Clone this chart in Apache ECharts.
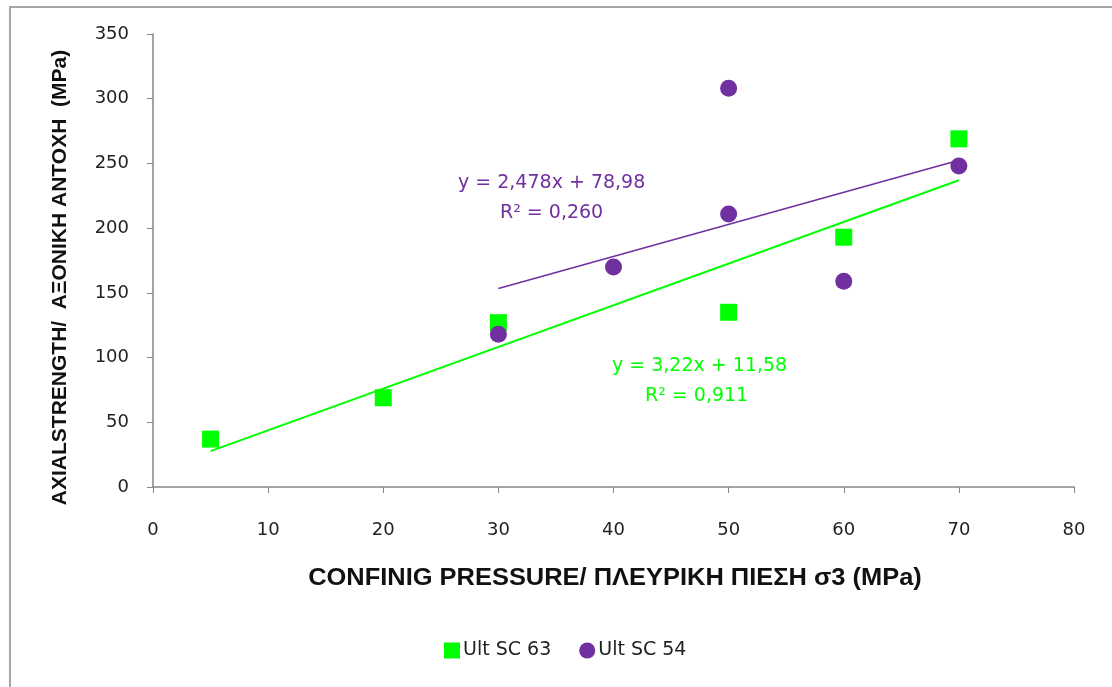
<!DOCTYPE html>
<html>
<head>
<meta charset="utf-8">
<script src="https://cdn.jsdelivr.net/npm/echarts@6/dist/echarts.min.js"></script>
<style>
  html, body { margin: 0; padding: 0; background: #fff; }
  #frame { position: absolute; left: 9px; top: 6px; width: 1103px; height: 681px;
           border-top: 2px solid #a6a6a6; border-left: 2px solid #a6a6a6; box-sizing: border-box; }
  #chart { position: absolute; left: 0; top: 0; width: 1112px; height: 687px; }
</style>
</head>
<body>
<div id="frame"></div>
<div id="chart"></div>
<script>
// Ult SC 63 (green squares)
const sc63X = [5, 20, 30, 50, 60, 70];
const sc63Y = [37, 69, 127, 135, 193, 269];
// Ult SC 54 (purple circles)
const sc54X = [30, 40, 50, 50, 60, 70];
const sc54Y = [118, 170, 308, 211, 159, 248];
// trendline coefficients as printed on the chart
const fit63 = { slope: 3.22, intercept: 11.58, from: 5, to: 70 };
const fit54 = { slope: 2.478, intercept: 78.98, from: 30, to: 70 };

const xTitle = "CONFINIG PRESSURE/ ΠΛΕΥΡΙΚΗ ΠΙΕΣΗ σ3 (MPa)";
const yTitle = "AXIALSTRENGTH/  ΑΞΟΝΙΚΗ ΑΝΤΟΧΗ  (MPa)";

const green = "#00ff00";
const purple = "#7030a0";
const tickFont = "DejaVu Sans";

const zip = (xs, ys) => xs.map((x, i) => [x, ys[i]]);
const line = (f) => [
  [f.from, f.slope * f.from + f.intercept],
  [f.to, f.slope * f.to + f.intercept],
];

let myChart = echarts.init(document.getElementById("chart"));
myChart.setOption({
  animation: false,
  grid: { left: 153, right: 38, top: 34, bottom: 200 },
  legend: {
    top: 636,
    left: 439,
    itemWidth: 16,
    itemHeight: 16,
    itemGap: 28,
    textStyle: { fontFamily: tickFont, fontSize: 19, color: "#222", padding: [0, 0, 0, -2] },
    data: [
      { name: "Ult SC 63", icon: "rect" },
      { name: "Ult SC 54", icon: "circle" },
    ],
  },
  xAxis: {
    type: "value",
    min: 0,
    max: 80,
    interval: 10,
    splitLine: { show: false },
    axisLine: { lineStyle: { color: "#868686", width: 1.5 } },
    axisTick: { inside: false, length: 6, lineStyle: { color: "#868686" } },
    axisLabel: { margin: 34, fontFamily: tickFont, fontSize: 18, color: "#222" },
  },
  yAxis: {
    type: "value",
    min: 0,
    max: 350,
    interval: 50,
    name: yTitle,
    nameLocation: "middle",
    nameGap: 82,
    nameTextStyle: {
      fontFamily: "Liberation Sans", fontWeight: "bold", fontSize: 21, color: "#111",
      padding: [0, 34, 0, 0],
    },
    splitLine: { show: false },
    axisLine: { show: true, lineStyle: { color: "#868686", width: 1.5 } },
    axisTick: { show: true, inside: false, length: 6, lineStyle: { color: "#868686" } },
    axisLabel: { margin: 24, fontFamily: tickFont, fontSize: 18, color: "#222" },
  },
  series: [
    {
      name: "Ult SC 63 trend",
      type: "line",
      data: line(fit63),
      symbol: "none",
      lineStyle: { color: green, width: 2 },
      z: 1,
    },
    {
      name: "Ult SC 54 trend",
      type: "line",
      data: line(fit54),
      symbol: "none",
      lineStyle: { color: purple, width: 1.6 },
      z: 1,
    },
    {
      name: "Ult SC 63",
      type: "scatter",
      data: zip(sc63X, sc63Y),
      symbol: "rect",
      symbolSize: 17,
      itemStyle: { color: green, opacity: 1 },
      z: 2,
    },
    {
      name: "Ult SC 54",
      type: "scatter",
      data: zip(sc54X, sc54Y),
      symbol: "circle",
      symbolSize: 17,
      itemStyle: { color: purple, opacity: 1 },
      z: 3,
    },
  ],
  graphic: [
    {
      // x axis title, a bit stretched like the original
      type: "text", x: 615, y: 578, scaleX: 1.06,
      style: {
        text: xTitle, fill: "#111", font: "bold 24px 'Liberation Sans'",
        textAlign: "center", textVerticalAlign: "middle",
      },
    },
    {
      type: "text", left: 458, top: 174,
      style: { text: "y = 2,478x + 78,98", fill: purple, font: "19px 'DejaVu Sans'" },
    },
    {
      type: "text", left: 500, top: 204,
      style: { text: "R² = 0,260", fill: purple, font: "19px 'DejaVu Sans'" },
    },
    {
      type: "text", left: 612, top: 357,
      style: { text: "y = 3,22x + 11,58", fill: green, font: "19px 'DejaVu Sans'" },
    },
    {
      type: "text", left: 645, top: 387,
      style: { text: "R² = 0,911", fill: green, font: "19px 'DejaVu Sans'" },
    },
  ],
});
</script>
</body>
</html>
